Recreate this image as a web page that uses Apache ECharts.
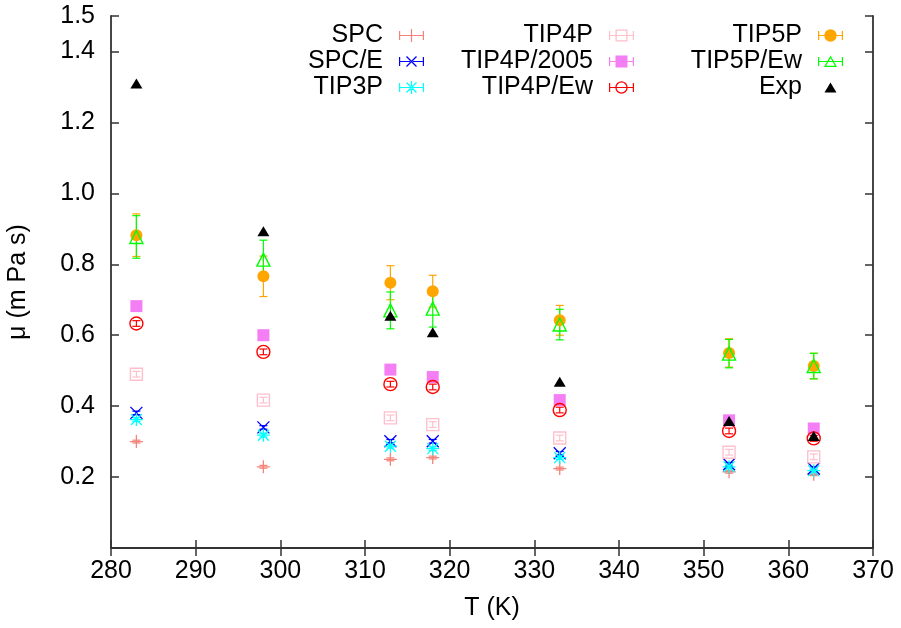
<!DOCTYPE html>
<html>
<head>
<meta charset="utf-8">
<script src="https://cdn.jsdelivr.net/npm/echarts@6/dist/echarts.min.js"></script>
<style>html,body{margin:0;padding:0;background:#fff}#c{width:901px;height:628px}</style>
</head>
<body>
<div id="c"></div>
<script>
// ---- data ----
const temps = [283, 298, 313, 318, 333, 353, 363];
const spc = [0.300, 0.229, 0.250, 0.255, 0.224, 0.215, 0.208];
const spcE = [0.381, 0.340, 0.301, 0.301, 0.267, 0.236, 0.224];
const tip3p = [0.362, 0.318, 0.287, 0.280, 0.255, 0.229, 0.218];
const tip4p = [0.490, 0.417, 0.367, 0.348, 0.310, 0.270, 0.257];
const tip4p2005 = [0.682, 0.600, 0.503, 0.482, 0.417, 0.360, 0.337];
const tip4pEw = [0.633, 0.553, 0.462, 0.454, 0.389, 0.330, 0.309];
const tip5p = [0.882, 0.766, 0.748, 0.724, 0.642, 0.550, 0.513];
const tip5pEw = [0.877, 0.813, 0.670, 0.675, 0.630, 0.548, 0.513];
const expData = [1.310, 0.893, 0.655, 0.608, 0.469, 0.358, 0.316];

const spcErr = [0.004, 0.004, 0.004, 0.004, 0.004, 0.004, 0.004];
const spcEErr = [0.005, 0.005, 0.005, 0.005, 0.005, 0.005, 0.005];
const tip3pErr = [0.005, 0.005, 0.005, 0.005, 0.005, 0.005, 0.005];
const tip4pErr = [0.008, 0.008, 0.008, 0.008, 0.008, 0.008, 0.008];
const tip4p2005Err = [0.008, 0.008, 0.008, 0.008, 0.008, 0.008, 0.008];
const tip4pEwErr = [0.008, 0.008, 0.008, 0.008, 0.008, 0.008, 0.008];
const tip5pErr = [0.060, 0.057, 0.048, 0.045, 0.042, 0.040, 0.036];
const tip5pEwErr = [0.060, 0.055, 0.052, 0.052, 0.043, 0.040, 0.036];

const FONT = 'Liberation Sans, Arial, Helvetica, sans-serif';
const FS = 25;
const AX = '#333';

// ---- legend icon paths (filled shapes) ----
function rectP(x0, y0, x1, y1, rev) {
  return rev ? `M${x0} ${y0}L${x0} ${y1}L${x1} ${y1}L${x1} ${y0}Z`
             : `M${x0} ${y0}L${x1} ${y0}L${x1} ${y1}L${x0} ${y1}Z`;
}
function thickLine(x1, y1, x2, y2, w) {
  const dx = x2 - x1, dy = y2 - y1, L = Math.hypot(dx, dy);
  const nx = -dy / L * w / 2, ny = dx / L * w / 2;
  return `M${x1 + nx} ${y1 + ny}L${x2 + nx} ${y2 + ny}L${x2 - nx} ${y2 - ny}L${x1 - nx} ${y1 - ny}Z`;
}
function circleP(cx, cy, r, rev) {
  const s = rev ? 0 : 1;
  return `M${cx - r} ${cy}A${r} ${r} 0 1 ${s} ${cx + r} ${cy}A${r} ${r} 0 1 ${s} ${cx - r} ${cy}Z`;
}
const CX = 23.5, CY = 7;
const anchor = 'M0 0L0.01 0M37 14L37.01 14';
const bar = rectP(11, 6.4, 36, 7.6) + rectP(11, 2.5, 12.2, 11.5) + rectP(34.8, 2.5, 36, 11.5);
const icons = {
  plus: rectP(22.9, 0.5, 24.1, 13.5) + rectP(17, 6.4, 30, 7.6),
  cross: thickLine(18.5, 2, 28.5, 12, 1.3) + thickLine(18.5, 12, 28.5, 2, 1.3),
  star: rectP(22.9, 0.5, 24.1, 13.5) + rectP(17, 6.4, 30, 7.6) + thickLine(18.5, 2, 28.5, 12, 1.3) + thickLine(18.5, 12, 28.5, 2, 1.3),
  emptyRect: rectP(17.5, 1, 29.5, 13) + rectP(18.8, 2.3, 28.2, 11.7, true),
  rect: rectP(17.5, 1, 29.5, 13),
  emptyCircle: circleP(CX, CY, 6.2) + circleP(CX, CY, 4.9, true),
  circle: circleP(CX, CY, 6.2),
  emptyTriangle: 'M23.5 1L30 12.5L17 12.5Z' + 'M23.5 3.45L19.1 11.2L27.9 11.2Z',
  triangle: 'M23.5 2L29.5 12L17.5 12Z'
};

// ---- scatter symbols (stroked paths for +, x, *) ----
const SYM = {
  plus: 'path://M0 6.5L13 6.5M6.5 0L6.5 13',
  cross: 'path://M0 0L10 10M0 10L10 0',
  star: 'path://M0 5L10 5M5 0L5 10M0.8 0.8L9.2 9.2M0.8 9.2L9.2 0.8'
};

const models = [
  { name: 'SPC', vals: spc, err: spcErr, color: '#f4837a', kind: 'plus', size: 13, bar: true },
  { name: 'SPC/E', vals: spcE, err: spcEErr, color: '#0000ff', kind: 'cross', size: 12, bar: true },
  { name: 'TIP3P', vals: tip3p, err: tip3pErr, color: '#00ffff', kind: 'star', size: 13, bar: true },
  { name: 'TIP4P', vals: tip4p, err: tip4pErr, color: '#ffc0cb', kind: 'emptyRect', size: 12, bar: true },
  { name: 'TIP4P/2005', vals: tip4p2005, err: tip4p2005Err, color: '#f47ef4', kind: 'rect', size: 12, bar: true },
  { name: 'TIP4P/Ew', vals: tip4pEw, err: tip4pEwErr, color: '#ff0000', kind: 'emptyCircle', size: 13, bar: true },
  { name: 'TIP5P', vals: tip5p, err: tip5pErr, color: '#ffa500', kind: 'circle', size: 12, bar: true },
  { name: 'TIP5P/Ew', vals: tip5pEw, err: tip5pEwErr, color: '#00ff00', kind: 'emptyTriangle', size: 13, bar: true },
  { name: 'Exp', vals: expData, err: null, color: '#000000', kind: 'triangle', size: [12, 10], bar: false }
];

function errRender(color) {
  return function (params, api) {
    const x = api.value(0), lo = api.value(1), hi = api.value(2);
    const p1 = api.coord([x, hi]), p2 = api.coord([x, lo]);
    const hw = 4, st = { stroke: color, lineWidth: 1.2 };
    return { type: 'group', children: [
      { type: 'line', shape: { x1: p1[0], y1: p1[1], x2: p2[0], y2: p2[1] }, style: st },
      { type: 'line', shape: { x1: p1[0] - hw, y1: p1[1], x2: p1[0] + hw, y2: p1[1] }, style: st },
      { type: 'line', shape: { x1: p2[0] - hw, y1: p2[1], x2: p2[0] + hw, y2: p2[1] }, style: st }
    ] };
  };
}

const series = [];
models.forEach(m => {
  if (m.err) {
    series.push({
      type: 'custom', name: m.name + ' err', xAxisIndex: 0, yAxisIndex: 0,
      renderItem: errRender(m.color), encode: { x: 0, y: [1, 2] },
      data: temps.map((t, i) => [t, m.vals[i] - m.err[i], m.vals[i] + m.err[i]]),
      silent: true, animation: false
    });
  }
  let symbol, itemStyle;
  if (SYM[m.kind]) {
    symbol = SYM[m.kind];
    itemStyle = { color: m.color, borderColor: m.color, borderWidth: 1.3, opacity: 1 };
  } else if (m.kind.startsWith('empty')) {
    symbol = m.kind === 'emptyRect' ? 'rect' : m.kind === 'emptyCircle' ? 'circle' : 'triangle';
    itemStyle = { color: 'rgba(0,0,0,0)', borderColor: m.color, borderWidth: 1.4, opacity: 1 };
  } else {
    symbol = m.kind;
    itemStyle = { color: m.color, opacity: 1 };
  }
  series.push({
    type: 'scatter', name: m.name, xAxisIndex: 0, yAxisIndex: 0,
    symbol: symbol, symbolSize: m.size, itemStyle: itemStyle,
    data: temps.map((t, i) => [t, m.vals[i]]), animation: false
  });
});

function legendCol(names, right) {
  return {
    orient: 'vertical', align: 'right', right: right, top: 23, padding: 0,
    itemGap: 1, itemWidth: 37, itemHeight: 14, selectedMode: false,
    textStyle: { fontFamily: FONT, fontSize: FS, color: '#000' },
    itemStyle: { borderWidth: 0 },
    data: names.map(n => {
      const m = models.find(q => q.name === n);
      return { name: n, icon: 'path://' + anchor + (m.bar ? bar : '') + icons[m.kind],
               itemStyle: { color: m.color, borderWidth: 0, opacity: 1 } };
    })
  };
}

const axisCommon = {
  axisLine: { show: true, lineStyle: { color: AX, width: 1.8 } },
  axisTick: { show: true, inside: true, length: 8, lineStyle: { color: AX, width: 1.5 } },
  splitLine: { show: false }
};

const option = {
  animation: false,
  backgroundColor: '#fff',
  grid: { left: 111, right: 28, top: 16, bottom: 80, containLabel: false, outerBoundsMode: 'none' },
  legend: [
    legendCol(['SPC', 'SPC/E', 'TIP3P'], 476),
    legendCol(['TIP4P', 'TIP4P/2005', 'TIP4P/Ew'], 266),
    legendCol(['TIP5P', 'TIP5P/Ew', 'Exp'], 57)
  ],
  xAxis: [
    Object.assign({}, axisCommon, {
      type: 'value', position: 'bottom', min: 280, max: 370, interval: 10,
      name: 'T (K)', nameLocation: 'middle', nameGap: 48,
      nameTextStyle: { fontFamily: FONT, fontSize: FS, color: '#000' },
      axisLabel: { fontFamily: FONT, fontSize: FS, color: '#000', margin: 11 }
    }),
    Object.assign({}, axisCommon, {
      type: 'value', position: 'top', min: 280, max: 370, interval: 10,
      axisLabel: { show: false }
    })
  ],
  yAxis: [
    Object.assign({}, axisCommon, {
      type: 'value', position: 'left', min: 0, max: 1.5, interval: 0.2,
      name: 'μ (m Pa s)', nameLocation: 'middle', nameGap: 80, nameRotate: 90,
      nameTextStyle: { fontFamily: FONT, fontSize: FS, color: '#000' },
      axisLabel: { fontFamily: FONT, fontSize: FS, color: '#000', margin: 16,
        formatter: v => (v === 0 ? '' : v.toFixed(1)) }
    }),
    Object.assign({}, axisCommon, {
      type: 'value', position: 'right', min: 0, max: 1.5, interval: 0.2,
      axisLabel: { show: false }
    })
  ],
  series: series
};

const chart = echarts.init(document.getElementById('c'), null, { renderer: 'canvas' });
chart.setOption(option);
</script>
</body>
</html>
